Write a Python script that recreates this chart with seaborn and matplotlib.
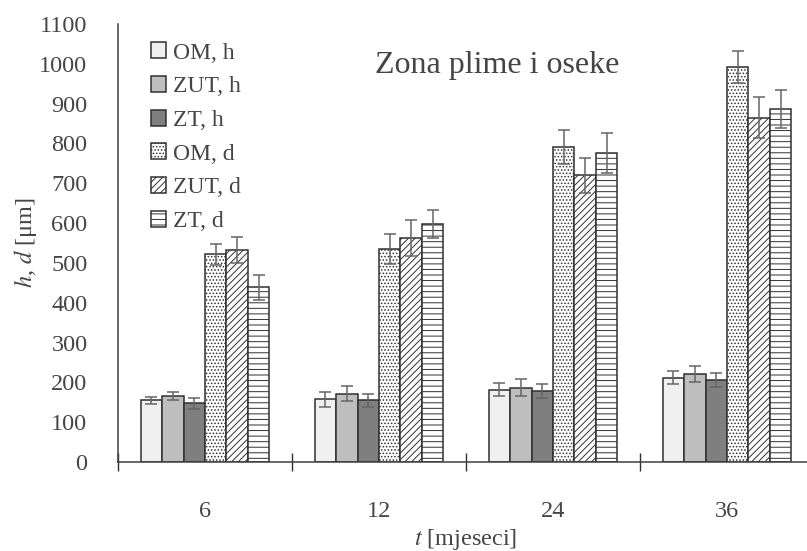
import pandas as pd
import matplotlib.pyplot as plt
import seaborn as sns
from matplotlib.ticker import FixedLocator, NullFormatter

# data
months = ['6', '12', '24', '36']
series = ['OM, h', 'ZUT, h', 'ZT, h', 'OM, d', 'ZUT, d', 'ZT, d']
om_h = [155, 158, 182, 212]
zut_h = [166, 172, 187, 221]
zt_h = [147, 155, 179, 206]
om_d = [522, 535, 792, 993]
zut_d = [532, 562, 720, 865]
zt_d = [439, 598, 777, 886]
om_h_err = [9, 19, 17, 17]
zut_h_err = [11, 19, 21, 20]
zt_h_err = [14, 16, 18, 18]
om_d_err = [26, 38, 43, 40]
zut_d_err = [33, 45, 44, 51]
zt_d_err = [31, 36, 50, 47]

values = [om_h, zut_h, zt_h, om_d, zut_d, zt_d]
errors = [om_h_err, zut_h_err, zt_h_err, om_d_err, zut_d_err, zt_d_err]
colors = ['#f0f0f0', '#bebebe', '#7f7f7f', 'white', 'white', 'white']
hatches = ['', '', '', '.....', '/////', '---']

rows = []
for s, vals in zip(series, values):
    for m, v in zip(months, vals):
        rows.append({'t': m, 'series': s, 'value': v})
df = pd.DataFrame(rows)

sns.set_style('white')
plt.rcParams['font.family'] = ['Liberation Serif', 'DejaVu Serif']
plt.rcParams['mathtext.fontset'] = 'stix'
plt.rcParams['hatch.color'] = '#222222'
plt.rcParams['hatch.linewidth'] = 0.7
txt = '#454545'

fig = plt.figure(figsize=(8.07, 5.51), dpi=100)
ax = fig.add_axes([118 / 807, 89 / 551, 696 / 807, 438 / 551])

sns.barplot(data=df, x='t', y='value', hue='series', order=months,
            hue_order=series, palette=colors, width=0.74, errorbar=None,
            edgecolor='#303030', linewidth=1.1, legend=False, ax=ax)

for cont, h, errs in zip(ax.containers, hatches, errors):
    xs, ys = [], []
    for p in cont.patches:
        p.set_hatch(h)
        xs.append(p.get_x() + p.get_width() / 2)
        ys.append(p.get_height())
    ax.errorbar(xs, ys, yerr=errs, fmt='none', ecolor='#666666',
                elinewidth=1.1, capsize=4, capthick=1.1)

ax.set_ylim(0, 1100)
ax.set_xlim(-0.5, 3.5)
ax.set_yticks(range(0, 1101, 100))
ax.tick_params(axis='y', length=0, labelsize=17.5, labelcolor=txt, pad=22)

# category separators as major ticks, labels on minor ticks
ax.xaxis.set_major_locator(FixedLocator([-0.5, 0.5, 1.5, 2.5, 3.5]))
ax.xaxis.set_major_formatter(NullFormatter())
ax.xaxis.set_minor_locator(FixedLocator([0, 1, 2, 3]))
ax.set_xticklabels(months, minor=True)
ax.tick_params(axis='x', which='both', bottom=True)
ax.tick_params(axis='x', which='major', direction='inout', length=13,
               width=1, color='#303030')
ax.tick_params(axis='x', which='minor', length=0, labelsize=17.5,
               labelcolor=txt, pad=28)

for side in ['top', 'right']:
    ax.spines[side].set_visible(False)
for side in ['left', 'bottom']:
    ax.spines[side].set_color('#404040')
    ax.spines[side].set_linewidth(1.1)

ax.set_xlabel('$t$ [mjeseci]', fontsize=17.5, color=txt, labelpad=4)
ax.set_ylabel('$h$, $d$ [μm]', fontsize=17.5, color=txt, labelpad=0)
ax.text(0.545, 0.905, 'Zona plime i oseke', transform=ax.transAxes,
        fontsize=23, color=txt, ha='center', va='center')

leg = ax.legend(ax.containers, series, loc='upper left',
                bbox_to_anchor=(0.03, 0.985), frameon=False, fontsize=17,
                handlelength=0.65, handleheight=0.65, handletextpad=0.3,
                labelspacing=0.53, borderpad=0)
for t in leg.get_texts():
    t.set_color(txt)

fig.savefig('out.png', dpi=100)
